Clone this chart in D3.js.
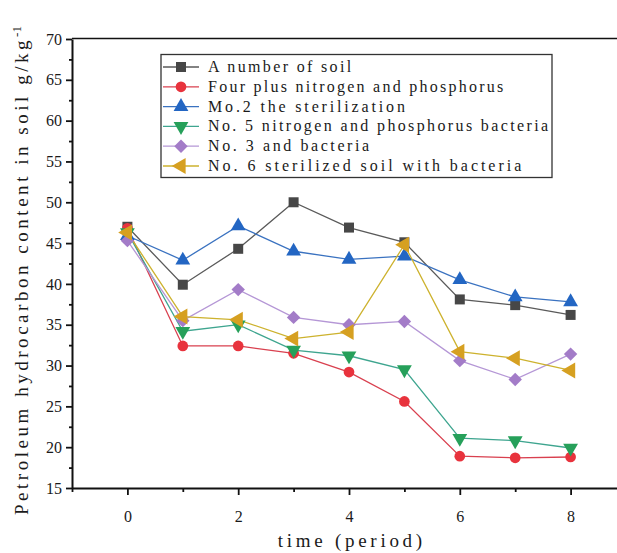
<!DOCTYPE html>
<html>
<head>
<meta charset="utf-8">
<script src="https://cdn.jsdelivr.net/npm/d3@7"></script>
<style>
  body { margin: 0; background: #fff; }
  text { font-family: "Liberation Serif", "DejaVu Serif", serif; fill: #1a1a1a; }
</style>
</head>
<body>
<div id="chart"></div>
<script>
const periods = [0, 1, 2, 3, 4, 5, 6, 7, 8];
const soilA    = [47.0, 39.9, 44.3, 50.0, 46.9, 45.1, 38.1, 37.4, 36.2];
const fourNP   = [46.8, 32.4, 32.4, 31.5, 29.2, 25.6, 18.9, 18.7, 18.8];
const no2Ster  = [45.9, 42.9, 47.1, 44.0, 43.0, 43.4, 40.5, 38.4, 37.8];
const no5NPB   = [46.3, 34.2, 35.0, 31.9, 31.2, 29.5, 21.1, 20.8, 19.9];
const no3Bact  = [45.3, 35.5, 39.3, 35.9, 35.0, 35.4, 30.6, 28.3, 31.4];
const no6Ster  = [46.3, 36.0, 35.6, 33.3, 34.1, 44.8, 31.7, 30.9, 29.4];
const seriesNames = ["A number of soil", "Four plus nitrogen and phosphorus", "Mo.2 the sterilization",
                     "No. 5 nitrogen and phosphorus bacteria", "No. 3 and bacteria", "No. 6 sterilized soil with bacteria"];
const yTicks = [15, 20, 25, 30, 35, 40, 45, 50, 55, 60, 65, 70];
const xTicks = [0, 2, 4, 6, 8];

const W = 617, H = 553;
const svg = d3.select("#chart").append("svg").attr("width", W).attr("height", H);

const x = d3.scaleLinear().domain([-1, 9]).range([72, 626]);
const y = d3.scaleLinear().domain([15, 70]).range([488, 39]);

// the original font is half-width monospace, so spread each string to a fixed cell width
function mono(sel, str, cell) {
    sel.text(str).attr("textLength", str.length * cell).attr("lengthAdjust", "spacing");
}

// top frame line
svg.append("line").attr("x1", 72).attr("x2", W).attr("y1", 38.5).attr("y2", 38.5)
    .attr("stroke", "#111").attr("stroke-width", 1.5);

// left axis
const yAxis = svg.append("g").attr("transform", "translate(72,0)")
    .call(d3.axisLeft(y).tickValues(yTicks).tickSize(6).tickSizeOuter(0).tickPadding(4));
yAxis.selectAll(".tick text").style("font-size", "16px").style("fill", "#1a1a1a")
    .style("font-family", "'Liberation Serif', serif");
svg.append("g").attr("transform", "translate(72,0)")
    .call(d3.axisLeft(y).tickValues(d3.range(17.5, 70, 5)).tickSize(3).tickFormat(""))
    .select(".domain").remove();

// bottom axis
const xAxis = svg.append("g").attr("transform", "translate(0,488)")
    .call(d3.axisBottom(x).tickValues(xTicks).tickSize(7).tickSizeOuter(0).tickPadding(16));
xAxis.selectAll(".tick text").style("font-size", "16px").style("fill", "#1a1a1a")
    .style("font-family", "'Liberation Serif', serif");
svg.append("g").attr("transform", "translate(0,488)")
    .call(d3.axisBottom(x).tickValues([-1, 1, 3, 5, 7]).tickSize(4).tickFormat(""))
    .select(".domain").remove();

svg.selectAll(".domain").attr("stroke-width", 2).attr("stroke", "#111");
svg.selectAll(".tick line").attr("stroke-width", 1.8).attr("stroke", "#111");

// axis titles
svg.append("text").attr("x", 350).attr("y", 547).attr("text-anchor", "middle")
    .style("font-size", "19px").call(mono, "time (period)", 11.1);
const yt = svg.append("text").attr("transform", "translate(28,515) rotate(-90)")
    .style("font-size", "19px");
yt.append("tspan").call(mono, "Petroleum hydrocarbon content in soil g/kg", 11.3);
yt.append("tspan").attr("dy", -7).style("font-size", "13px").text("-1");

const series = [
  {name: seriesNames[0], values: soilA,   line: "#5a5a5a", fill: "#474747", shape: d3.symbolSquare,   size: 100, rot: 0},
  {name: seriesNames[1], values: fourNP,  line: "#d9404f", fill: "#e8333d", shape: d3.symbolCircle,   size: 90,  rot: 0},
  {name: seriesNames[2], values: no2Ster, line: "#3a72c0", fill: "#2366c3", shape: d3.symbolTriangle, size: 95,  rot: 0},
  {name: seriesNames[3], values: no5NPB,  line: "#3ea58f", fill: "#26a05a", shape: d3.symbolTriangle, size: 95,  rot: 180},
  {name: seriesNames[4], values: no3Bact, line: "#b597d6", fill: "#a37cc8", shape: d3.symbolSquare,   size: 90,  rot: 45},
  {name: seriesNames[5], values: no6Ster, line: "#cdb22e", fill: "#d6a021", shape: d3.symbolTriangle, size: 110, rot: -90}
];

const line = d3.line().x((d, i) => x(periods[i])).y(d => y(d));

series.forEach(function(s) {
    svg.append("path").attr("d", line(s.values))
        .attr("fill", "none").attr("stroke", s.line).attr("stroke-width", 1.3);
});
series.forEach(function(s) {
    svg.selectAll(null).data(s.values).enter().append("path")
        .attr("d", d3.symbol().type(s.shape).size(s.size))
        .attr("transform", (d, i) => `translate(${x(periods[i])},${y(d)}) rotate(${s.rot})`)
        .attr("fill", s.fill);
});

// legend
const leg = svg.append("g");
leg.append("rect").attr("x", 161).attr("y", 54.5).attr("width", 391).attr("height", 123)
    .attr("fill", "#fff").attr("stroke", "#333").attr("stroke-width", 1.3);
series.forEach(function(s, i) {
    const ly = 67 + i * 19.8;
    leg.append("line").attr("x1", 163).attr("x2", 199).attr("y1", ly).attr("y2", ly)
        .attr("stroke", s.line).attr("stroke-width", 1.3);
    leg.append("path").attr("d", d3.symbol().type(s.shape).size(s.size))
        .attr("transform", `translate(181,${ly}) rotate(${s.rot})`).attr("fill", s.fill);
    leg.append("text").attr("x", 208).attr("y", ly + 5).style("font-size", "16px")
        .call(mono, s.name, 8.95);
});
</script>
</body>
</html>
